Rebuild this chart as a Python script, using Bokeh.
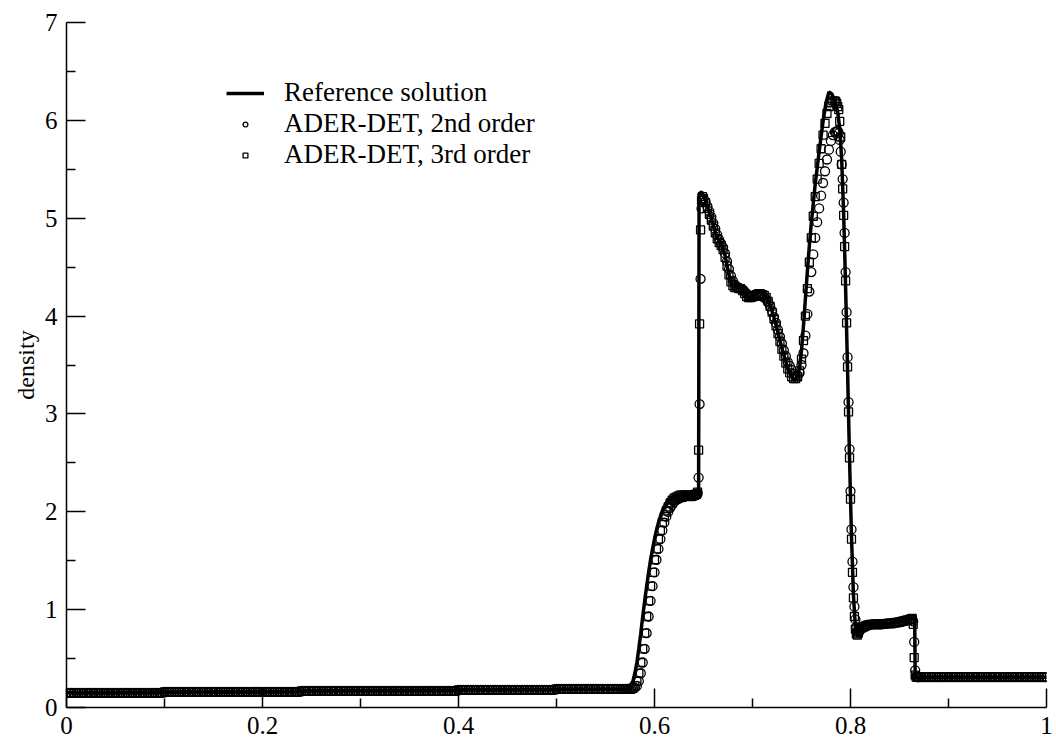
from bokeh.plotting import figure
from bokeh.models import Range1d, FixedTicker, Legend, LegendItem, ColumnDataSource
from bokeh.embed import file_html
from bokeh.resources import INLINE

# ---------------- data ----------------
# Reference solution (line)
ref_x = [0.0, 0.1, 0.2, 0.3, 0.4, 0.5, 0.572, 0.574, 0.576, 0.578, 0.580, 0.582, 0.584,
         0.586, 0.588, 0.590, 0.592, 0.594, 0.596, 0.598, 0.600, 0.602, 0.604, 0.606,
         0.608, 0.610, 0.612, 0.614, 0.616, 0.620, 0.625, 0.645, 0.6455, 0.648, 0.652,
         0.656, 0.660, 0.664, 0.668, 0.672, 0.676, 0.680, 0.684, 0.688, 0.692, 0.696,
         0.700, 0.704, 0.708, 0.712, 0.716, 0.720, 0.724, 0.728, 0.732, 0.736, 0.740,
         0.743, 0.746, 0.748, 0.750, 0.752, 0.754, 0.756, 0.758, 0.760, 0.764, 0.768,
         0.772, 0.775, 0.778, 0.781, 0.784, 0.787, 0.789, 0.791, 0.793, 0.795, 0.797,
         0.799, 0.801, 0.803, 0.805, 0.807, 0.810, 0.815, 0.820, 0.830, 0.840, 0.850,
         0.860, 0.8655, 0.866, 1.0]
ref_rho = [0.15, 0.155, 0.16, 0.17, 0.18, 0.185, 0.19, 0.20, 0.22, 0.27, 0.35, 0.46, 0.60,
           0.76, 0.93, 1.09, 1.24, 1.38, 1.51, 1.62, 1.72, 1.81, 1.89, 1.95,
           2.01, 2.05, 2.09, 2.12, 2.14, 2.16, 2.17, 2.18, 5.25, 5.27, 5.18,
           5.06, 4.93, 4.80, 4.74, 4.62, 4.42, 4.31, 4.30, 4.29, 4.24, 4.19,
           4.20, 4.23, 4.24, 4.22, 4.16, 4.05, 3.91, 3.75, 3.60, 3.47, 3.38,
           3.34, 3.38, 3.47, 3.65, 3.90, 4.18, 4.46, 4.72, 4.95, 5.35, 5.68,
           5.99, 6.18, 6.29, 6.27, 6.20, 6.08, 5.92, 5.60, 5.05, 4.30, 3.45,
           2.55, 1.75, 1.15, 0.82, 0.75, 0.79, 0.84, 0.85, 0.85, 0.86, 0.875,
           0.90, 0.91, 0.31, 0.31]

# Numerical solutions: left constant state (shared mesh points)
left_x = [0.0000, 0.0025, 0.0050, 0.0075, 0.0100, 0.0125, 0.0150, 0.0175,
          0.0200, 0.0225, 0.0250, 0.0275, 0.0300, 0.0325, 0.0350, 0.0375,
          0.0400, 0.0425, 0.0450, 0.0475, 0.0500, 0.0525, 0.0550, 0.0575,
          0.0600, 0.0625, 0.0650, 0.0675, 0.0700, 0.0725, 0.0750, 0.0775,
          0.0800, 0.0825, 0.0850, 0.0875, 0.0900, 0.0925, 0.0950, 0.0975,
          0.1000, 0.1025, 0.1050, 0.1075, 0.1100, 0.1125, 0.1150, 0.1175,
          0.1200, 0.1225, 0.1250, 0.1275, 0.1300, 0.1325, 0.1350, 0.1375,
          0.1400, 0.1425, 0.1450, 0.1475, 0.1500, 0.1525, 0.1550, 0.1575,
          0.1600, 0.1625, 0.1650, 0.1675, 0.1700, 0.1725, 0.1750, 0.1775,
          0.1800, 0.1825, 0.1850, 0.1875, 0.1900, 0.1925, 0.1950, 0.1975,
          0.2000, 0.2025, 0.2050, 0.2075, 0.2100, 0.2125, 0.2150, 0.2175,
          0.2200, 0.2225, 0.2250, 0.2275, 0.2300, 0.2325, 0.2350, 0.2375,
          0.2400, 0.2425, 0.2450, 0.2475, 0.2500, 0.2525, 0.2550, 0.2575,
          0.2600, 0.2625, 0.2650, 0.2675, 0.2700, 0.2725, 0.2750, 0.2775,
          0.2800, 0.2825, 0.2850, 0.2875, 0.2900, 0.2925, 0.2950, 0.2975,
          0.3000, 0.3025, 0.3050, 0.3075, 0.3100, 0.3125, 0.3150, 0.3175,
          0.3200, 0.3225, 0.3250, 0.3275, 0.3300, 0.3325, 0.3350, 0.3375,
          0.3400, 0.3425, 0.3450, 0.3475, 0.3500, 0.3525, 0.3550, 0.3575,
          0.3600, 0.3625, 0.3650, 0.3675, 0.3700, 0.3725, 0.3750, 0.3775,
          0.3800, 0.3825, 0.3850, 0.3875, 0.3900, 0.3925, 0.3950, 0.3975,
          0.4000, 0.4025, 0.4050, 0.4075, 0.4100, 0.4125, 0.4150, 0.4175,
          0.4200, 0.4225, 0.4250, 0.4275, 0.4300, 0.4325, 0.4350, 0.4375,
          0.4400, 0.4425, 0.4450, 0.4475, 0.4500, 0.4525, 0.4550, 0.4575,
          0.4600, 0.4625, 0.4650, 0.4675, 0.4700, 0.4725, 0.4750, 0.4775,
          0.4800, 0.4825, 0.4850, 0.4875, 0.4900, 0.4925, 0.4950, 0.4975,
          0.5000, 0.5025, 0.5050, 0.5075, 0.5100, 0.5125, 0.5150, 0.5175,
          0.5200, 0.5225, 0.5250, 0.5275, 0.5300, 0.5325, 0.5350, 0.5375,
          0.5400, 0.5425, 0.5450, 0.5475, 0.5500, 0.5525, 0.5550, 0.5575,
          0.5600, 0.5625, 0.5650, 0.5675, 0.5700]
left_rho = [0.15, 0.15, 0.15, 0.15, 0.15, 0.15, 0.15, 0.15,
            0.15, 0.15, 0.15, 0.15, 0.15, 0.15, 0.15, 0.15,
            0.15, 0.15, 0.15, 0.15, 0.15, 0.15, 0.15, 0.15,
            0.15, 0.15, 0.15, 0.15, 0.15, 0.15, 0.15, 0.15,
            0.15, 0.15, 0.15, 0.15, 0.15, 0.15, 0.15, 0.15,
            0.16, 0.16, 0.16, 0.16, 0.16, 0.16, 0.16, 0.16,
            0.16, 0.16, 0.16, 0.16, 0.16, 0.16, 0.16, 0.16,
            0.16, 0.16, 0.16, 0.16, 0.16, 0.16, 0.16, 0.16,
            0.16, 0.16, 0.16, 0.16, 0.16, 0.16, 0.16, 0.16,
            0.16, 0.16, 0.16, 0.16, 0.16, 0.16, 0.16, 0.16,
            0.16, 0.16, 0.16, 0.16, 0.16, 0.16, 0.16, 0.16,
            0.16, 0.16, 0.16, 0.16, 0.16, 0.16, 0.16, 0.16,
            0.17, 0.17, 0.17, 0.17, 0.17, 0.17, 0.17, 0.17,
            0.17, 0.17, 0.17, 0.17, 0.17, 0.17, 0.17, 0.17,
            0.17, 0.17, 0.17, 0.17, 0.17, 0.17, 0.17, 0.17,
            0.17, 0.17, 0.17, 0.17, 0.17, 0.17, 0.17, 0.17,
            0.17, 0.17, 0.17, 0.17, 0.17, 0.17, 0.17, 0.17,
            0.17, 0.17, 0.17, 0.17, 0.17, 0.17, 0.17, 0.17,
            0.17, 0.17, 0.17, 0.17, 0.17, 0.17, 0.17, 0.17,
            0.17, 0.17, 0.17, 0.17, 0.17, 0.17, 0.17, 0.17,
            0.18, 0.18, 0.18, 0.18, 0.18, 0.18, 0.18, 0.18,
            0.18, 0.18, 0.18, 0.18, 0.18, 0.18, 0.18, 0.18,
            0.18, 0.18, 0.18, 0.18, 0.18, 0.18, 0.18, 0.18,
            0.18, 0.18, 0.18, 0.18, 0.18, 0.18, 0.18, 0.18,
            0.18, 0.18, 0.18, 0.18, 0.18, 0.18, 0.18, 0.18,
            0.19, 0.19, 0.19, 0.19, 0.19, 0.19, 0.19, 0.19,
            0.19, 0.19, 0.19, 0.19, 0.19, 0.19, 0.19, 0.19,
            0.19, 0.19, 0.19, 0.19, 0.19, 0.19, 0.19, 0.19,
            0.19, 0.19, 0.19, 0.19, 0.19]

# Numerical solutions: wave region
mid_x = [0.572, 0.574, 0.576, 0.578, 0.580, 0.582, 0.584, 0.586, 0.588, 0.590,
         0.592, 0.594, 0.596, 0.598, 0.600, 0.602, 0.604, 0.606, 0.608, 0.610,
         0.612, 0.614, 0.616, 0.618, 0.620, 0.622, 0.624, 0.626, 0.628, 0.630,
         0.632, 0.634, 0.636, 0.638, 0.640, 0.642,
         0.643, 0.644, 0.645, 0.646, 0.647, 0.648, 0.649, 0.650,
         0.652, 0.654, 0.656, 0.658, 0.660, 0.662, 0.664, 0.666, 0.668, 0.670,
         0.672, 0.674, 0.676, 0.678, 0.680, 0.682, 0.684, 0.686, 0.688, 0.690,
         0.692, 0.694, 0.696, 0.698, 0.700, 0.702, 0.704, 0.706, 0.708, 0.710,
         0.712, 0.714, 0.716, 0.718, 0.720, 0.722, 0.724, 0.726, 0.728, 0.730,
         0.732, 0.734, 0.736, 0.738, 0.740, 0.742, 0.744, 0.746, 0.748, 0.750,
         0.752, 0.754, 0.756, 0.758, 0.760, 0.762, 0.764, 0.766, 0.768, 0.770,
         0.772, 0.774, 0.776, 0.778, 0.780, 0.782, 0.784,
         0.785, 0.786, 0.787, 0.788, 0.789, 0.790, 0.791, 0.792, 0.793, 0.794,
         0.795, 0.796, 0.797, 0.798, 0.799, 0.800, 0.801, 0.802, 0.803, 0.804,
         0.805, 0.806, 0.807, 0.808, 0.809, 0.810,
         0.812, 0.814, 0.816, 0.818, 0.820, 0.822, 0.824, 0.826, 0.828, 0.830,
         0.832, 0.834, 0.836, 0.838, 0.840, 0.842, 0.844, 0.846, 0.848, 0.850,
         0.852, 0.854, 0.856, 0.858, 0.860,
         0.861, 0.862, 0.863, 0.864, 0.865, 0.866, 0.867, 0.868, 0.869]

mid_rho_2nd = [0.19, 0.19, 0.19, 0.19, 0.20, 0.22, 0.27, 0.35, 0.46, 0.60,
               0.76, 0.93, 1.09, 1.24, 1.38, 1.51, 1.62, 1.72, 1.81, 1.89,
               1.95, 2.00, 2.04, 2.07, 2.10, 2.12, 2.13, 2.14, 2.15, 2.15,
               2.16, 2.16, 2.16, 2.16, 2.16, 2.17,
               2.17, 2.19, 2.35, 3.10, 4.38, 5.10, 5.20, 5.20,
               5.17, 5.12, 5.07, 5.01, 4.95, 4.89, 4.83, 4.78, 4.74, 4.70,
               4.64, 4.56, 4.48, 4.41, 4.36, 4.32, 4.30, 4.29, 4.28, 4.27,
               4.25, 4.23, 4.21, 4.20, 4.20, 4.20, 4.21, 4.21, 4.21, 4.20,
               4.19, 4.17, 4.14, 4.10, 4.05, 3.99, 3.93, 3.86, 3.79, 3.72,
               3.65, 3.59, 3.53, 3.49, 3.45, 3.41, 3.39, 3.39, 3.42, 3.50,
               3.62, 3.80, 4.02, 4.25, 4.45, 4.63, 4.80, 4.96, 5.10, 5.23,
               5.36, 5.48, 5.60, 5.70, 5.79, 5.85, 5.88,
               5.88, 5.89, 5.89, 5.87, 5.80, 5.68, 5.55, 5.40, 5.16, 4.85,
               4.45, 4.04, 3.58, 3.12, 2.64, 2.21, 1.82, 1.49, 1.23, 1.03,
               0.90, 0.82, 0.78, 0.77, 0.78, 0.80,
               0.81, 0.82, 0.83, 0.84, 0.845, 0.85, 0.85, 0.85, 0.85, 0.85,
               0.85, 0.855, 0.855, 0.86, 0.86, 0.86, 0.86, 0.865, 0.87, 0.87,
               0.875, 0.88, 0.885, 0.89, 0.895,
               0.90, 0.90, 0.90, 0.88, 0.67, 0.38, 0.32, 0.31, 0.31]

mid_rho_3rd = [0.19, 0.19, 0.19, 0.20, 0.22, 0.27, 0.35, 0.46, 0.60, 0.76,
               0.93, 1.09, 1.24, 1.38, 1.51, 1.62, 1.72, 1.81, 1.89, 1.95,
               2.01, 2.05, 2.09, 2.12, 2.14, 2.15, 2.16, 2.17, 2.17, 2.17,
               2.17, 2.17, 2.17, 2.17, 2.17, 2.18,
               2.18, 2.20, 2.63, 3.92, 4.88, 5.18, 5.22, 5.20,
               5.16, 5.10, 5.04, 4.98, 4.92, 4.85, 4.79, 4.75, 4.72, 4.68,
               4.60, 4.51, 4.42, 4.35, 4.31, 4.29, 4.29, 4.28, 4.28, 4.26,
               4.23, 4.20, 4.19, 4.19, 4.20, 4.21, 4.22, 4.23, 4.23, 4.22,
               4.21, 4.19, 4.15, 4.10, 4.04, 3.97, 3.90, 3.82, 3.74, 3.66,
               3.59, 3.52, 3.46, 3.42, 3.38, 3.36, 3.36, 3.38, 3.44, 3.56,
               3.75, 4.00, 4.28, 4.55, 4.80, 5.02, 5.22, 5.40, 5.56, 5.71,
               5.85, 5.97, 6.07, 6.14, 6.18, 6.20, 6.20,
               6.19, 6.17, 6.14, 6.11, 5.99, 5.83, 5.55, 5.30, 5.03, 4.71,
               4.36, 3.93, 3.48, 3.02, 2.55, 2.13, 1.72, 1.38, 1.12, 0.93,
               0.80, 0.75, 0.74, 0.76, 0.79, 0.81,
               0.82, 0.83, 0.84, 0.845, 0.85, 0.85, 0.85, 0.85, 0.85, 0.85,
               0.855, 0.855, 0.855, 0.86, 0.86, 0.86, 0.865, 0.87, 0.87, 0.875,
               0.88, 0.885, 0.89, 0.895, 0.90,
               0.90, 0.905, 0.91, 0.85, 0.51, 0.33, 0.31, 0.31, 0.31]

# Numerical solutions: right constant state
right_x = [0.8700, 0.8725, 0.8750, 0.8775, 0.8800, 0.8825, 0.8850, 0.8875,
           0.8900, 0.8925, 0.8950, 0.8975, 0.9000, 0.9025, 0.9050, 0.9075,
           0.9100, 0.9125, 0.9150, 0.9175, 0.9200, 0.9225, 0.9250, 0.9275,
           0.9300, 0.9325, 0.9350, 0.9375, 0.9400, 0.9425, 0.9450, 0.9475,
           0.9500, 0.9525, 0.9550, 0.9575, 0.9600, 0.9625, 0.9650, 0.9675,
           0.9700, 0.9725, 0.9750, 0.9775, 0.9800, 0.9825, 0.9850, 0.9875,
           0.9900, 0.9925, 0.9950, 0.9975, 1.0000]
right_rho = [0.31, 0.31, 0.31, 0.31, 0.31, 0.31, 0.31, 0.31,
             0.31, 0.31, 0.31, 0.31, 0.31, 0.31, 0.31, 0.31,
             0.31, 0.31, 0.31, 0.31, 0.31, 0.31, 0.31, 0.31,
             0.31, 0.31, 0.31, 0.31, 0.31, 0.31, 0.31, 0.31,
             0.31, 0.31, 0.31, 0.31, 0.31, 0.31, 0.31, 0.31,
             0.31, 0.31, 0.31, 0.31, 0.31, 0.31, 0.31, 0.31,
             0.31, 0.31, 0.31, 0.31, 0.31]

series_labels = ["Reference solution", "ADER-DET, 2nd order", "ADER-DET, 3rd order"]
x_ticks = [0, 0.2, 0.4, 0.6, 0.8, 1.0]
x_tick_labels = ["0", "0.2", "0.4", "0.6", "0.8", "1"]
x_minor = [0.1, 0.3, 0.5, 0.7, 0.9]
y_ticks = [0, 1, 2, 3, 4, 5, 6, 7]
y_tick_labels = ["0", "1", "2", "3", "4", "5", "6", "7"]
y_minor = [0.5, 1.5, 2.5, 3.5, 4.5, 5.5, 6.5]
y_label = "density"

# ---------------- figure ----------------
FONT = "'Liberation Serif', 'Times New Roman', Times, serif"

p = figure(width=1053, height=744,
           x_range=Range1d(0, 1), y_range=Range1d(0, 7),
           output_backend="svg", toolbar_location=None,
           min_border_left=66, min_border_top=22, min_border_right=7,
           min_border_bottom=37)
p.outline_line_color = None
p.xgrid.visible = False
p.ygrid.visible = False
p.background_fill_color = "white"
p.border_fill_color = "white"

num_x = left_x + mid_x + right_x
src2 = ColumnDataSource(dict(x=num_x, y=left_rho + mid_rho_2nd + right_rho))
src3 = ColumnDataSource(dict(x=num_x, y=left_rho + mid_rho_3rd + right_rho))
srcr = ColumnDataSource(dict(x=ref_x, y=ref_rho))

r_ref = p.line("x", "y", source=srcr, line_color="black", line_width=3.5)
r_2 = p.scatter("x", "y", source=src2, marker="circle", size=9,
                line_color="black", line_width=1.3, fill_color=None)
r_3 = p.scatter("x", "y", source=src3, marker="square", size=8,
                line_color="black", line_width=1.3, fill_color=None)

for ax, ticks, minor, labels in ((p.xaxis[0], x_ticks, x_minor, x_tick_labels),
                                 (p.yaxis[0], y_ticks, y_minor, y_tick_labels)):
    ax.ticker = FixedTicker(ticks=ticks, minor_ticks=minor)
    ax.major_label_overrides = {t: l for t, l in zip(ticks, labels)}
    ax.axis_line_width = 1.5
    ax.axis_line_color = "black"
    ax.major_tick_line_width = 1.5
    ax.minor_tick_line_width = 1.5
    ax.major_tick_line_color = "black"
    ax.minor_tick_line_color = "black"
    ax.major_tick_in = 19
    ax.major_tick_out = 0
    ax.minor_tick_in = 9
    ax.minor_tick_out = 0
    ax.major_label_text_font = FONT
    ax.major_label_text_font_size = "25px"
    ax.major_label_text_color = "black"

p.xaxis.major_label_standoff = 9
p.yaxis.major_label_standoff = 9
p.yaxis.axis_label = y_label
p.yaxis.axis_label_text_font = FONT
p.yaxis.axis_label_text_font_size = "24px"
p.yaxis.axis_label_text_font_style = "normal"
p.yaxis.axis_label_text_color = "black"
p.yaxis.axis_label_standoff = 3

legend = Legend(items=[LegendItem(label=series_labels[0], renderers=[r_ref]),
                       LegendItem(label=series_labels[1], renderers=[r_2]),
                       LegendItem(label=series_labels[2], renderers=[r_3])],
                location=(160, 537))
legend.label_text_font = FONT
legend.label_text_font_size = "27px"
legend.label_text_color = "black"
legend.glyph_width = 38
legend.glyph_height = 12
legend.label_height = 12
legend.label_standoff = 20
legend.spacing = 0
legend.padding = 0
legend.margin = 0
legend.border_line_color = None
legend.background_fill_alpha = 0
p.add_layout(legend)

open("out.html", "w").write(file_html(p, INLINE))
